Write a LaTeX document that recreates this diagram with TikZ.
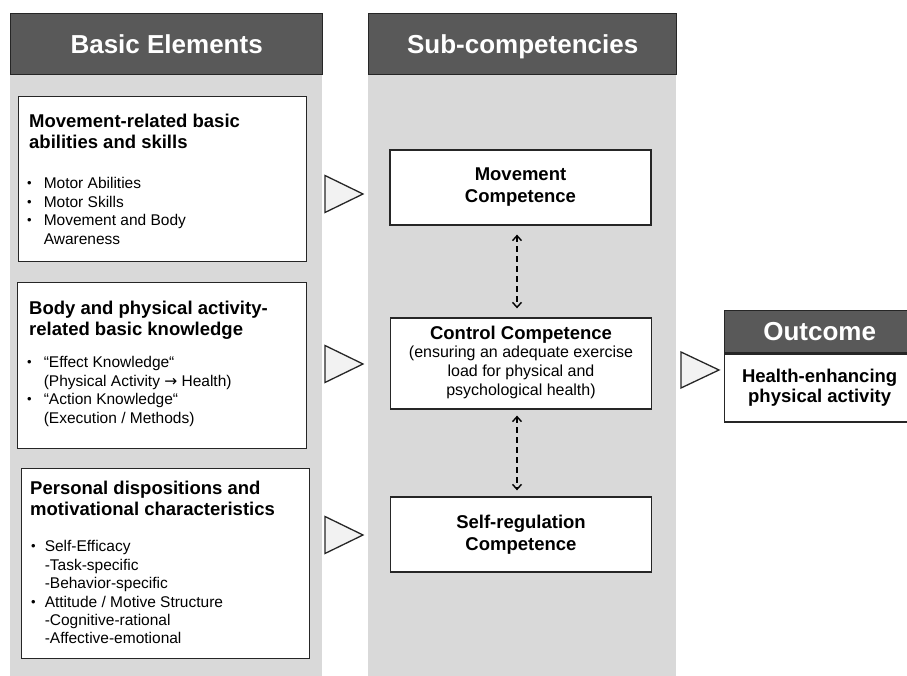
\documentclass[tikz,border=0pt]{standalone}
\usepackage{fontspec}
\setmainfont{Liberation Sans}
\newfontfamily\arrowfont{DejaVu Sans}
\usetikzlibrary{arrows.meta,positioning}

\definecolor{headgray}{HTML}{595959}
\definecolor{colgray}{HTML}{D9D9D9}
\definecolor{trigray}{HTML}{F2F2F2}
\definecolor{linegray}{HTML}{262626}

\newcommand{\headfont}{\fontsize{26}{30}\selectfont\bfseries}
\newcommand{\titlefont}{\fontsize{18.5}{20.5}\selectfont\bfseries}
\newcommand{\listfont}{\fontsize{15.5}{18.4}\selectfont}
\newcommand{\subfont}{\fontsize{16}{18.8}\selectfont\mdseries}
\newcommand{\LineStack}[1]{\begin{tabular}[t]{@{}l@{}}#1\end{tabular}}
\newcommand{\ItemList}[2][12pt]{\begin{tabular}[t]{@{}l@{\hspace{#1}}l@{}}#2\end{tabular}}
\newcommand{\Bul}{\raisebox{1pt}{\fontsize{13}{13}\selectfont\textbullet}}

\begin{document}
\begin{tikzpicture}[x=1pt,y=1pt]
  \tikzset{HeadStyle/.style = {draw           = linegray,
                               line width     = 1.3pt,
                               fill           = headgray,
                               text           = white,
                               font           = \headfont,
                               text height    = 18.7pt,
                               text depth     = 0pt,
                               inner sep      = 0pt,
                               anchor         = north west},
           BoxStyle/.style  = {draw           = linegray,
                               line width     = 1.3pt,
                               fill           = white,
                               inner sep      = 0pt,
                               anchor         = north west},
           CompStyle/.style = {BoxStyle, anchor=center, minimum width=261pt,
                               align=center, font=\titlefont},
           TextStyle/.style = {inner sep=0pt, anchor=base west},
           TriStyle/.style  = {draw=linegray, line width=1.3pt, fill=trigray, line join=miter},
           LinkStyle/.style = {{Straight Barb[length=5pt,width=9pt]}-{Straight Barb[length=5pt,width=9pt]},
                               line width=1.4pt, dash pattern=on 6pt off 4pt,
                               shorten <=#1, shorten >=#1}}
  \useasboundingbox (0,0) rectangle (907,676);
  %%% COLONNES %%%
  \fill[colgray] (10,663) rectangle (322,0);
  \fill[colgray] (368,663) rectangle (676,0);
  \node[HeadStyle, minimum width=312pt, minimum height=61pt](HeadBasic) at (10,663){Basic Elements};
  \node[HeadStyle, minimum width=308pt, minimum height=61pt](HeadSub) at (368,663){Sub-competencies};
  %%% BASIC ELEMENTS %%%
  \node[BoxStyle, minimum width=288pt, minimum height=165pt](BoxMove) at (18,580){};
  \node[TextStyle, font=\titlefont](MoveTitle) at (29,548){\LineStack{Movement-related basic\\abilities and skills}};
  \node[TextStyle, font=\listfont](MoveList) at (27,487){\ItemList{%
    \Bul & Motor Abilities\\
    \Bul & Motor Skills\\
    \Bul & Movement and Body\\
         & Awareness}};
  %
  \node[BoxStyle, minimum width=289pt, minimum height=166pt](BoxBody) at (17,394){};
  \node[TextStyle, font=\titlefont](BodyTitle) at (29,361){\LineStack{Body and physical activity-\\related basic knowledge}};
  \node[TextStyle, font=\listfont](BodyList) at (27,308){\ItemList{%
    \Bul & “Effect Knowledge“\\
         & (Physical Activity {\arrowfont →} Health)\\
    \Bul & “Action Knowledge“\\
         & (Execution / Methods)}};
  %
  \node[BoxStyle, minimum width=288pt, minimum height=190pt](BoxPers) at (21,208){};
  \node[TextStyle, font=\titlefont](PersTitle) at (30,181){\LineStack{Personal dispositions and\\motivational characteristics}};
  \node[TextStyle, font=\listfont](PersList) at (31,124){\ItemList[9pt]{%
    \Bul & Self-Efficacy\\
         & -Task-specific\\
         & -Behavior-specific\\
    \Bul & Attitude / Motive Structure\\
         & -Cognitive-rational\\
         & -Affective-emotional}};
  %%% SUB-COMPETENCIES %%%
  \node[CompStyle, minimum height=75pt](CompMove) at (520.5,488.5){Movement\\[1.5pt]Competence};
  \node[CompStyle, minimum height=91pt](CompCtrl) at (521,312.5){Control Competence\\[-2pt]
    \subfont\begin{tabular}[t]{@{}c@{}}(ensuring an adequate exercise\\load for physical and\\psychological health)\end{tabular}};
  \node[CompStyle, minimum height=75pt](CompSelf) at (521,141.5){Self-regulation\\[1.5pt]Competence};
  \draw[LinkStyle=9pt]([xshift=-3.5pt]CompMove.south) -- ([xshift=-4pt]CompCtrl.north);
  \draw[LinkStyle=6pt]([xshift=-4pt]CompCtrl.south) -- ([xshift=-4pt]CompSelf.north);
  %%% OUTCOME %%%
  \node[HeadStyle, minimum width=190pt, minimum height=42pt](HeadOut) at (724,366){Outcome};
  \node[BoxStyle, minimum width=190pt, minimum height=68pt, font=\titlefont, align=center](BoxOut) at (HeadOut.south west){Health-enhancing\\physical activity};
  %%% FLECHES %%%
  \foreach \ty in {482,312,141}{
    \draw[TriStyle] (325,\ty+18.5) -- (363,\ty) -- (325,\ty-18.5) -- cycle;
  }
  \draw[TriStyle] (681,324) -- (719,306) -- (681,288) -- cycle;
\end{tikzpicture}
\end{document}
